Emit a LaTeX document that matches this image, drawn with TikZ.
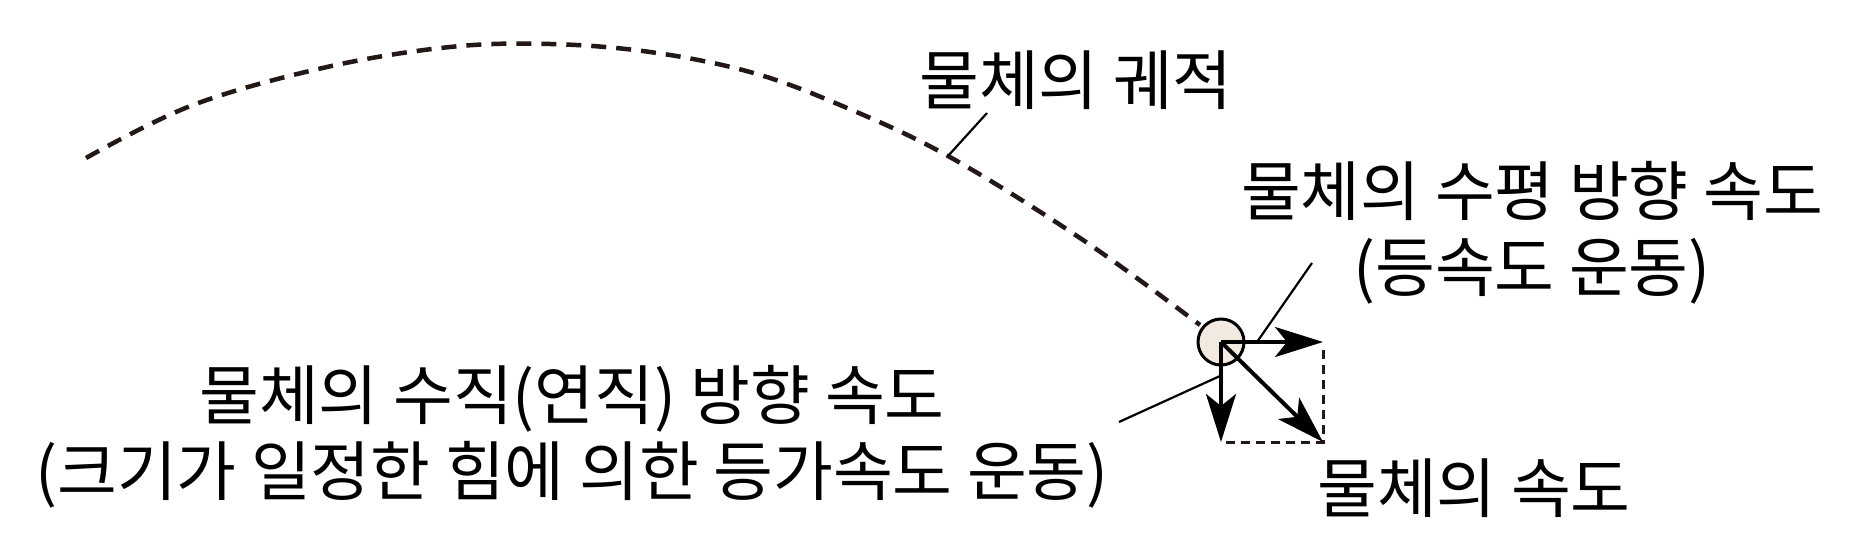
\documentclass[tikz,border=0pt]{standalone}
\usepackage{fontspec}
\newfontfamily\kr{Noto Sans CJK KR}
\usetikzlibrary{arrows.meta}
\definecolor{ink}{HTML}{231815}
\definecolor{ballfill}{HTML}{F2EAE0}
\tikzset{
  lbl/.style={font=\kr\fontsize{65}{76}\selectfont, inner sep=0pt, align=center, text=black},
  leader/.style={draw=black, line width=2.2pt},
  traj/.style={draw=ink, line width=4.5pt, dash pattern=on 15pt off 10pt},
  vec/.style={draw=black, line width=4pt, -{Stealth[length=48pt, width=30pt, inset=12pt]}},
  guide/.style={draw=ink, line width=3pt, dash pattern=on 9pt off 6pt},
}
\begin{document}
\begin{tikzpicture}[x=1pt,y=-1pt]
\useasboundingbox (0,0) rectangle (1861,548);
% trajectory
\draw[traj] plot[smooth, tension=0.6] coordinates {(86,158) (193,105) (327,67) (450,47) (550,44) (650,52) (750,72) (840,105) (948,156) (1083,240) (1200,325)};
% coordinates
\coordinate (o) at (1221,342);
\coordinate (hx) at (1323,342);
\coordinate (vy) at (1221,442);
\coordinate (d) at (1323,442);
\coordinate (rtop) at (1323,350);
% guides
\draw[guide] (rtop) -- (d) -- (vy);
% ball
\node[circle, draw=black, line width=3pt, fill=ballfill, minimum size=46pt, inner sep=0pt] (ball) at (o) {};
% vectors
\draw[vec] (o) -- (hx);
\draw[vec] (o) -- (vy);
\draw[vec] (o) -- (d);
% labels
\node[lbl] (t1) at (1076,80) {물체의 궤적};
\node[lbl] (t2) at (1532,233) {물체의 수평 방향 속도\\(등속도 운동)};
\node[lbl] (t4) at (572,437) {물체의 수직(연직) 방향 속도\\(크기가 일정한 힘에 의한 등가속도 운동)};
\node[lbl] (t6) at (1474,488) {물체의 속도};
% leaders
\coordinate (l1a) at (987,113);
\coordinate (l1b) at (948,156);
\coordinate (l2a) at (1312,263);
\coordinate (l2b) at (1257,342);
\coordinate (l3a) at (1119,422);
\coordinate (l3b) at (1220,376);
\draw[leader] (l1a) -- (l1b);
\draw[leader] (l2a) -- (l2b);
\draw[leader] (l3a) -- (l3b);
\end{tikzpicture}
\end{document}
